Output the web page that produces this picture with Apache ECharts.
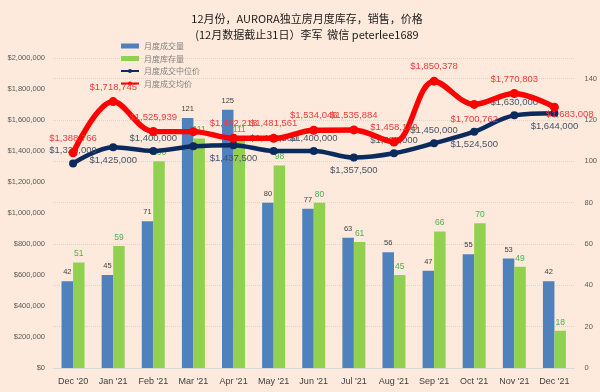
<!DOCTYPE html>
<html><head><meta charset="utf-8">
<script src="https://cdn.jsdelivr.net/npm/echarts@6/dist/echarts.min.js"></script>
<style>html,body{margin:0;padding:0;background:#FDEADC;}#c{width:600px;height:392px;}</style>
</head><body><div id="c"></div>
<script>
var categories = ["Dec '20","Jan '21","Feb '21","Mar '21","Apr '21","May '21","Jun '21","Jul '21","Aug '21","Sep '21","Oct '21","Nov '21","Dec '21"];
var salesCount = [42,45,71,121,125,80,77,63,56,47,55,53,42];
var inventoryCount = [51,59,100,111,111,98,80,61,45,66,70,49,18];
var medianPrice = [1320000,1425000,1400000,1430000,1437500,1400500,1400000,1357500,1385000,1450000,1524500,1630000,1644000];
var avgPrice = [1388766,1718745,1525939,1525000,1482218,1481561,1534046,1535884,1458149,1850378,1700762,1770803,1683008];
var leftTicks = [0,200000,400000,600000,800000,1000000,1200000,1400000,1600000,1800000,2000000];
var seriesNames = ["月度成交量","月度库存量","月度成交中位价","月度成交均价"];

// label placement (style only)
var medPos = ['top','bottom','top',null,'bottom','top','top','bottom','top','top','bottom','top','bottom'];
var avgPos = ['top','top','top',null,'top','top','top','top','top','top','bottom','top','right'];

function money(v){return '$'+v.toString().replace(/\B(?=(\d{3})+(?!\d))/g, ',');}
function lineData(vals,pos){
  return vals.map(function(v,i){
    var p = pos[i];
    if(!p) return {value:v,label:{show:false}};
    var lb = {show:true,position:p};
    if(p==='right') lb.offset=[-18,7];
    return {value:v,label:lb};
  });
}
var chart = echarts.init(document.getElementById('c'));
chart.setOption({
  backgroundColor:'#FDEADC',
  animation:false,
  title:{
    text:'12月份，AURORA独立房月度库存，销售，价格\n(12月数据截止31日）李军  微信 peterlee1689',
    left:302, textAlign:'center', top:6,
    textStyle:{fontSize:11,fontWeight:'normal',color:'#1a1a1a',lineHeight:16,fontFamily:'Noto Sans CJK SC'}
  },
  legend:{
    orient:'vertical', left:115, top:37, itemGap:4.5, itemWidth:18, itemHeight:5,
    textStyle:{fontSize:8,color:'#808080',fontFamily:'Noto Sans CJK SC'},
    data:[
      {name:seriesNames[0],icon:'rect'},
      {name:seriesNames[1],icon:'rect'},
      {name:seriesNames[2]},
      {name:seriesNames[3]}
    ]
  },
  grid:{left:53,right:24,top:58,bottom:24},
  xAxis:{
    type:'category', data:categories,
    axisLine:{lineStyle:{color:'#D9D9D9'}}, axisTick:{show:false},
    axisLabel:{color:'#404040',fontSize:9,margin:9,interval:0,fontFamily:'Liberation Sans'}
  },
  yAxis:[
    {type:'value',min:leftTicks[0],max:leftTicks[leftTicks.length-1],interval:leftTicks[1]-leftTicks[0],
     axisLabel:{color:'#595959',fontSize:7.5,formatter:money,margin:8,fontFamily:'Liberation Sans'},
     axisLine:{show:false},axisTick:{show:false},splitLine:{show:false}},
    {type:'value',min:0,max:150,interval:20,
     axisLabel:{color:'#595959',fontSize:7.5,showMaxLabel:false,margin:10,fontFamily:'Liberation Sans'},
     axisLine:{show:false},axisTick:{show:false},
     splitLine:{show:true,lineStyle:{color:'#E6D3C6',type:'dotted',width:1}}}
  ],
  series:[
    {name:seriesNames[0],type:'bar',yAxisIndex:1,data:salesCount,barWidth:11.5,barGap:'0%',
     itemStyle:{color:'#4F81BD'},
     label:{show:true,position:'top',color:'#404040',fontSize:7.5,distance:5}},
    {name:seriesNames[1],type:'bar',yAxisIndex:1,data:inventoryCount,barWidth:11.5,barGap:'0%',
     itemStyle:{color:'#92D050'},
     label:{show:true,position:'top',color:'#4CB050',fontSize:8.5,distance:4}},
    {name:seriesNames[2],type:'line',yAxisIndex:0,smooth:0.35,data:lineData(medianPrice,medPos),
     symbol:'circle',symbolSize:8,lineStyle:{color:'#0B2A5E',width:4.5},itemStyle:{color:'#0B2A5E'},
     label:{color:'#44546A',fontSize:9.5,formatter:function(p){return money(p.value);},distance:4,fontFamily:'Liberation Sans'},
     z:3},
    {name:seriesNames[3],type:'line',yAxisIndex:0,smooth:0.35,data:lineData(avgPrice,avgPos),
     symbol:'circle',symbolSize:9,lineStyle:{color:'#FF0000',width:5.5},itemStyle:{color:'#FF0000'},
     label:{color:'#F03C3C',fontSize:9.5,formatter:function(p){return money(p.value);},distance:5,fontFamily:'Liberation Sans'},
     z:4}
  ]
});
</script></body></html>
